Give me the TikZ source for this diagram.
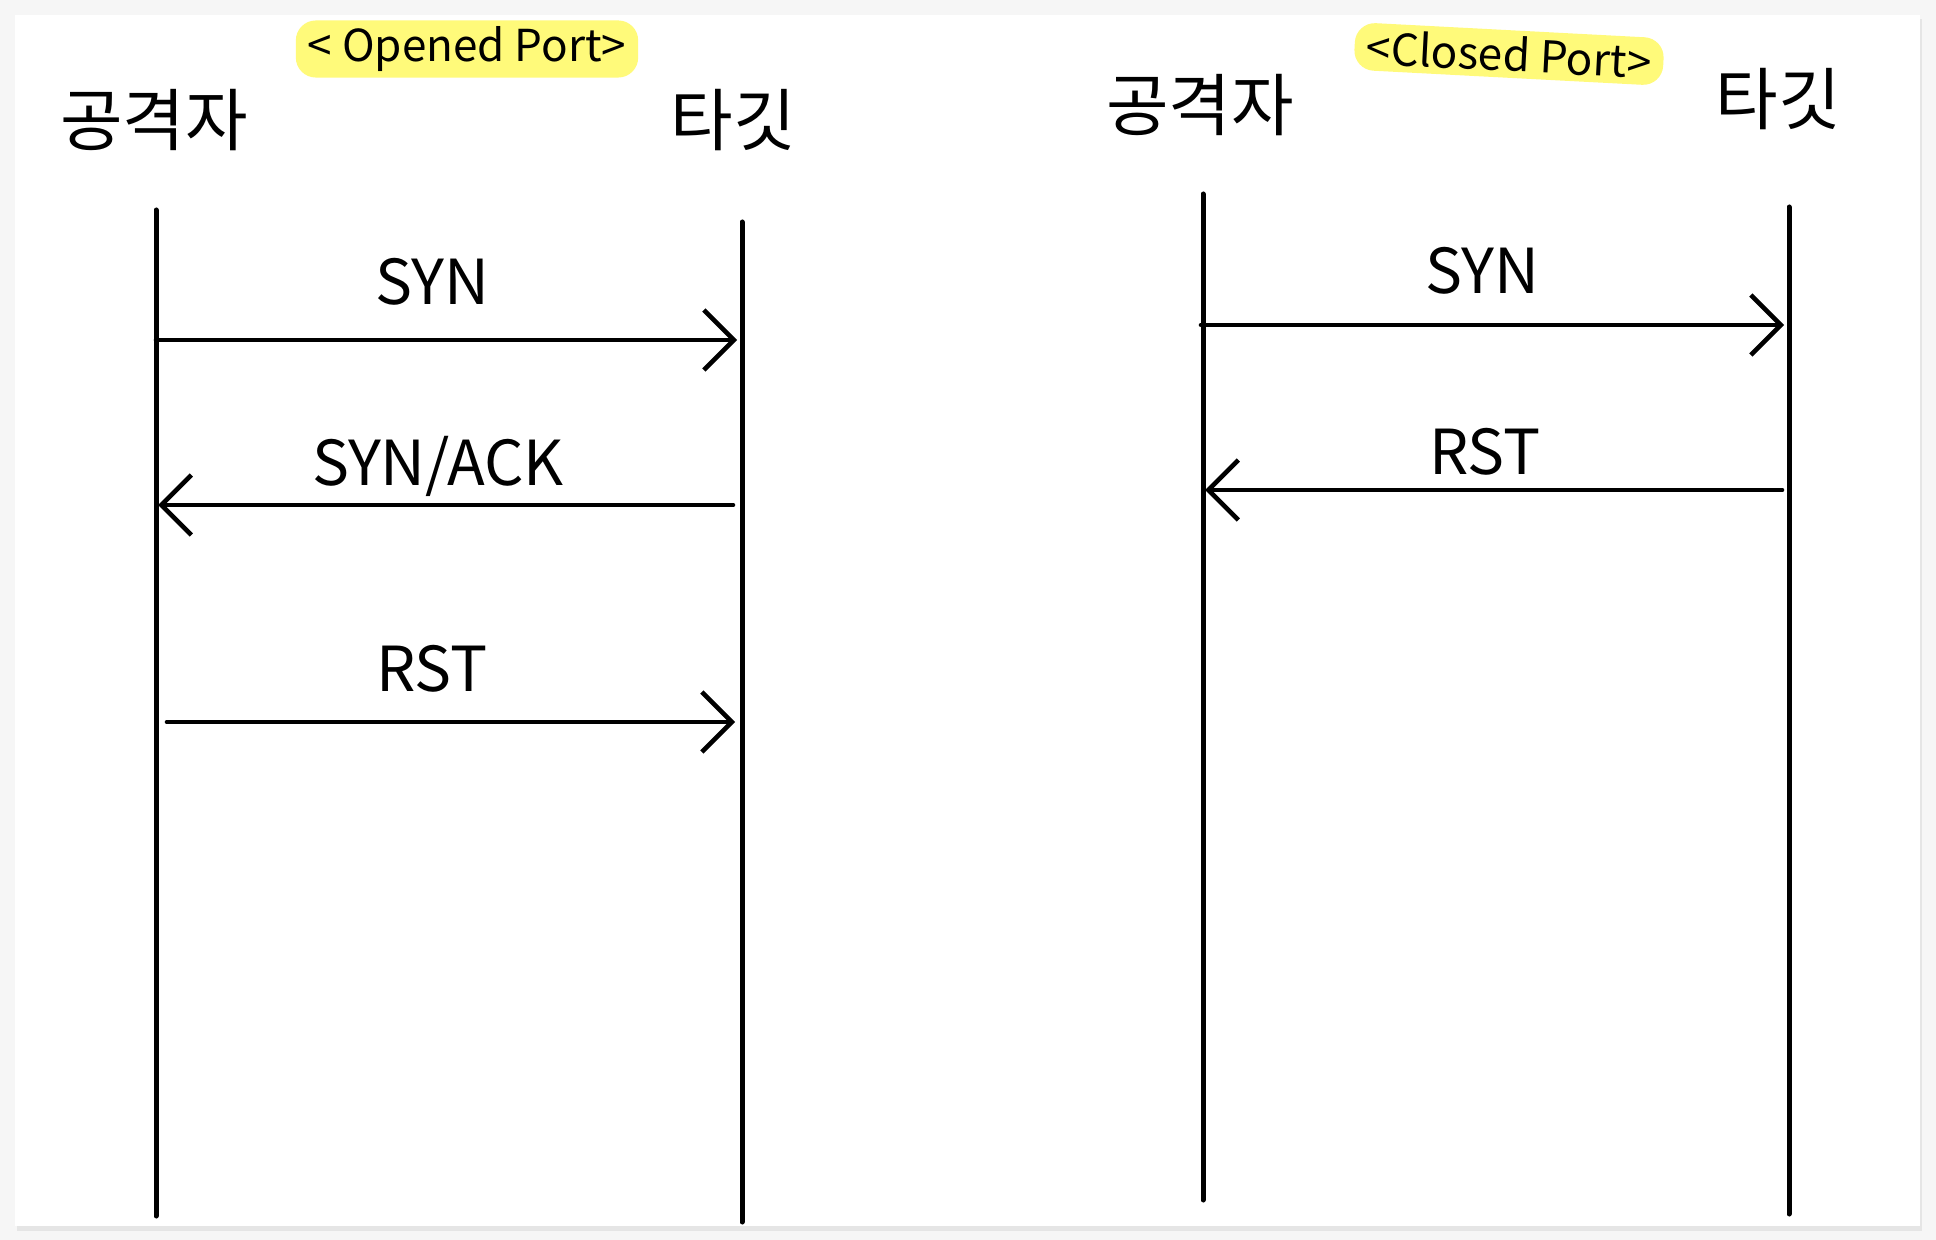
\documentclass[tikz,border=0pt]{standalone}
\usepackage{fontspec}
\setmainfont{Noto Sans CJK KR}
\usetikzlibrary{arrows.meta}
\definecolor{hilite}{HTML}{FFFA7A}
\definecolor{pagebg}{HTML}{F6F6F6}

\tikzset{
  life/.style={line width=2.5pt, black, line cap=round},
  msg/.style={line width=2.3pt, black, line cap=round,
    -{Straight Barb[length=15pt,width=30pt,line width=2.3pt]}},
  who/.style={font=\fontsize{34}{34}\selectfont},
  msglabel/.style={font=\fontsize{31}{31}\selectfont, anchor=base, inner sep=0pt},
  porttitle/.style={font=\fontsize{22}{22}\selectfont, fill=hilite, rounded corners=10pt,
    inner xsep=6pt, inner ysep=3pt},
}

\begin{document}
\begin{tikzpicture}[x=0.5pt, y=-0.5pt]
% paper
\fill[pagebg] (0,0) rectangle (1936,1240);
\fill[black!10] (17,19) rectangle (1922,1231);
\fill[white] (15,15) rectangle (1920,1226);
\useasboundingbox (0,0) rectangle (1936,1240);

% titles
\node[porttitle] (opentitle) at (467,49) {< Opened Port>};
\node[porttitle, rotate=-3] (closedtitle) at (1509,54) {<Closed Port>};

% opened port
\node[who] (atkA) at (154,120) {공격자};
\node[who] (tgtA) at (733,120) {타깃};
\coordinate (atkAtop) at (156,210);
\coordinate (atkAbot) at (156,1216);
\coordinate (tgtAtop) at (742,222);
\coordinate (tgtAbot) at (742,1222);
\draw[life] (atkAtop) -- (atkAbot);
\draw[life] (tgtAtop) -- (tgtAbot);

\coordinate (a1) at (156,340);
\coordinate (t1) at (737,340);
\draw[msg] (a1) -- (t1);
\node[msglabel] (synA) at (432,305) {SYN};

\coordinate (t2) at (733,505);
\coordinate (a2) at (158,505);
\draw[msg] (t2) -- (a2);
\node[msglabel] (synackA) at (438,486) {SYN/ACK};

\coordinate (a3) at (167,722);
\coordinate (t3) at (735,722);
\draw[msg] (a3) -- (t3);
\node[msglabel] (rstA) at (432,691) {RST};

% closed port
\node[who] (atkB) at (1200,105) {공격자};
\node[who] (tgtB) at (1778,99) {타깃};
\coordinate (atkBtop) at (1203,194);
\coordinate (atkBbot) at (1203,1200);
\coordinate (tgtBtop) at (1789,207);
\coordinate (tgtBbot) at (1789,1214);
\draw[life] (atkBtop) -- (atkBbot);
\draw[life] (tgtBtop) -- (tgtBbot);

\coordinate (b1) at (1201,325);
\coordinate (u1) at (1784,325);
\draw[msg] (b1) -- (u1);
\node[msglabel] (synB) at (1482,294) {SYN};

\coordinate (u2) at (1782,490);
\coordinate (b2) at (1205,490);
\draw[msg] (u2) -- (b2);
\node[msglabel] (rstB) at (1485,474) {RST};
\end{tikzpicture}
\end{document}
